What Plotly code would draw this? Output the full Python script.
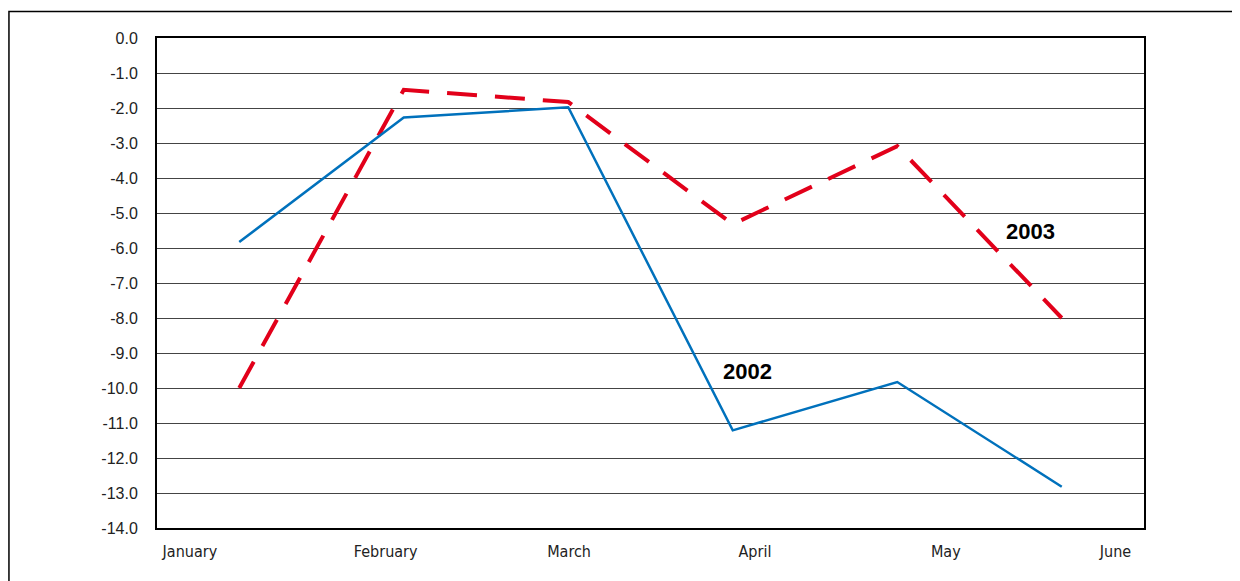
import plotly.graph_objects as go

months = ["January", "February", "March", "April", "May", "June"]
values_2002 = [-5.83, -2.27, -1.98, -11.21, -9.83, -12.82]
values_2003 = [-10.0, -1.48, -1.83, -5.32, -3.09, -8.0]
y_ticks = [0, -1, -2, -3, -4, -5, -6, -7, -8, -9, -10, -11, -12, -13, -14]
y_labels = ["%.1f" % v for v in y_ticks]

# month labels in the source sit off-centre of the data points
label_pos = [0.20, 1.39, 2.505, 3.635, 4.795, 5.827]
x_pos = [i + 0.5 for i in range(len(months))]

fig = go.Figure()
fig.add_trace(go.Scatter(x=x_pos, y=values_2003, mode="lines", name="2003",
                         line=dict(color="#E2001A", width=4, dash="30px,18px")))
fig.add_trace(go.Scatter(x=x_pos, y=values_2002, mode="lines", name="2002",
                         line=dict(color="#0071BC", width=2.5)))

fig.add_annotation(x=5.313, y=-5.52, text="<b>2003</b>", showarrow=False,
                   font=dict(family="Liberation Sans, Arial", size=22, color="#000"))
fig.add_annotation(x=3.587, y=-9.52, text="<b>2002</b>", showarrow=False,
                   font=dict(family="Liberation Sans, Arial", size=22, color="#000"))

# outer frame
fig.add_shape(type="rect", xref="paper", yref="paper", x0=-0.15, x1=1.2, y0=-0.2, y1=1.054,
              line=dict(color="#000", width=1.5), layer="below")

# page body adds an 8px offset, so the figure is 8px smaller than the window
fig.update_layout(
    width=1232, height=573,
    margin=dict(l=149, r=96, t=30, b=53),
    paper_bgcolor="white", plot_bgcolor="white",
    showlegend=False,
    xaxis=dict(range=[0, 6], tickvals=label_pos, ticktext=months, showgrid=False,
               zeroline=False, showline=True, mirror=True, linecolor="#000", linewidth=2,
               ticks="", ticklabelstandoff=8,
               tickfont=dict(family="DejaVu Sans Condensed, Liberation Sans", size=16, color="#222")),
    yaxis=dict(range=[-14, 0], tickvals=y_ticks, ticktext=y_labels, showgrid=True,
               gridcolor="#444", gridwidth=1, zeroline=False, showline=True, mirror=True,
               linecolor="#000", linewidth=2, ticks="", ticklabelstandoff=14,
               tickfont=dict(family="Liberation Sans, Arial", size=16, color="#222")),
)

fig.write_html("out.html")
